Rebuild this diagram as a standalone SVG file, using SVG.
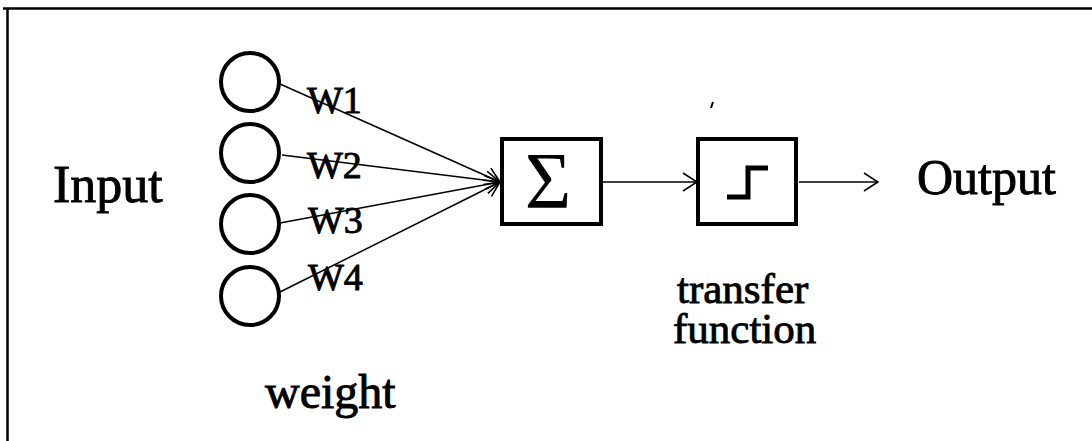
<svg xmlns="http://www.w3.org/2000/svg" width="1092" height="441" viewBox="0 0 1092 441">
  <style>
    .lbl { font-family: "Liberation Serif", "Times New Roman", serif; fill: #000; stroke: #000; stroke-width: 0.9; }
    .ring { fill: #fff; stroke: #000; stroke-width: 4; }
    .box { fill: #fff; stroke: #000; stroke-width: 4; }
    .wire { stroke: #000; stroke-width: 1.5; fill: none; }
  </style>
  <defs>
    <marker id="open" viewBox="0 0 16 20" refX="15" refY="10" markerWidth="16" markerHeight="20" markerUnits="userSpaceOnUse" orient="auto">
      <path d="M1,1 L15,10 L1,19" fill="none" stroke="#000" stroke-width="1.6"/>
    </marker>
  </defs>
  <rect width="1092" height="441" fill="#fff"/>

  <!-- frame -->
  <g id="frame" stroke="#000" stroke-width="2.5" fill="none">
    <line x1="3" y1="8.5" x2="1092" y2="8.5"/>
    <line x1="7.5" y1="8" x2="7.5" y2="441"/>
  </g>

  <!-- weighted inputs into the summing junction, then on through the step -->
  <g id="connectors">
    <line class="wire" x1="280" y1="84" x2="500" y2="182" marker-end="url(#open)"/>
    <line class="wire" x1="282" y1="155" x2="500" y2="182" marker-end="url(#open)"/>
    <line class="wire" x1="280" y1="223" x2="500" y2="182" marker-end="url(#open)"/>
    <line class="wire" x1="280" y1="292" x2="500" y2="182" marker-end="url(#open)"/>
    <line class="wire" x1="603" y1="182" x2="697" y2="182" marker-end="url(#open)"/>
    <line class="wire" x1="799" y1="182" x2="878" y2="182" marker-end="url(#open)"/>
  </g>

  <g id="input-label"><text class="lbl" x="53" y="202" font-size="52">Input</text></g>

  <g id="in1"><circle class="ring" cx="250" cy="82" r="29"/></g>
  <g id="in2"><circle class="ring" cx="250" cy="153" r="29"/></g>
  <g id="in3"><circle class="ring" cx="250" cy="224" r="29"/></g>
  <g id="in4"><circle class="ring" cx="250" cy="296" r="29"/></g>

  <g id="weights">
    <text class="lbl" x="307" y="113" font-size="38">W1</text>
    <text class="lbl" x="307" y="178" font-size="38">W2</text>
    <text class="lbl" x="308" y="233" font-size="38">W3</text>
    <text class="lbl" x="308" y="290" font-size="38">W4</text>
  </g>

  <g id="sum">
    <rect class="box" x="502" y="139" width="99" height="85"/>
    <text x="548" y="208" font-size="80" text-anchor="middle" font-family="Liberation Serif, serif" fill="#000">Σ</text>
  </g>

  <g id="transfer">
    <rect class="box" x="698" y="139" width="98" height="85"/>
    <polyline points="727,197 748,197 748,168 768,168" fill="none" stroke="#000" stroke-width="5"/>
  </g>

  <g id="output-label"><text class="lbl" x="917" y="194" font-size="50">Output</text></g>

  <g id="transfer-label">
    <text class="lbl" x="677" y="303" font-size="43">transfer</text>
    <text class="lbl" x="673" y="343" font-size="43">function</text>
  </g>

  <g id="weight-label"><text class="lbl" x="265" y="408" font-size="48">weight</text></g>

  <!-- small stray tick above the step block -->
  <line x1="711" y1="108" x2="713" y2="102" stroke="#000" stroke-width="2"/>
</svg>
